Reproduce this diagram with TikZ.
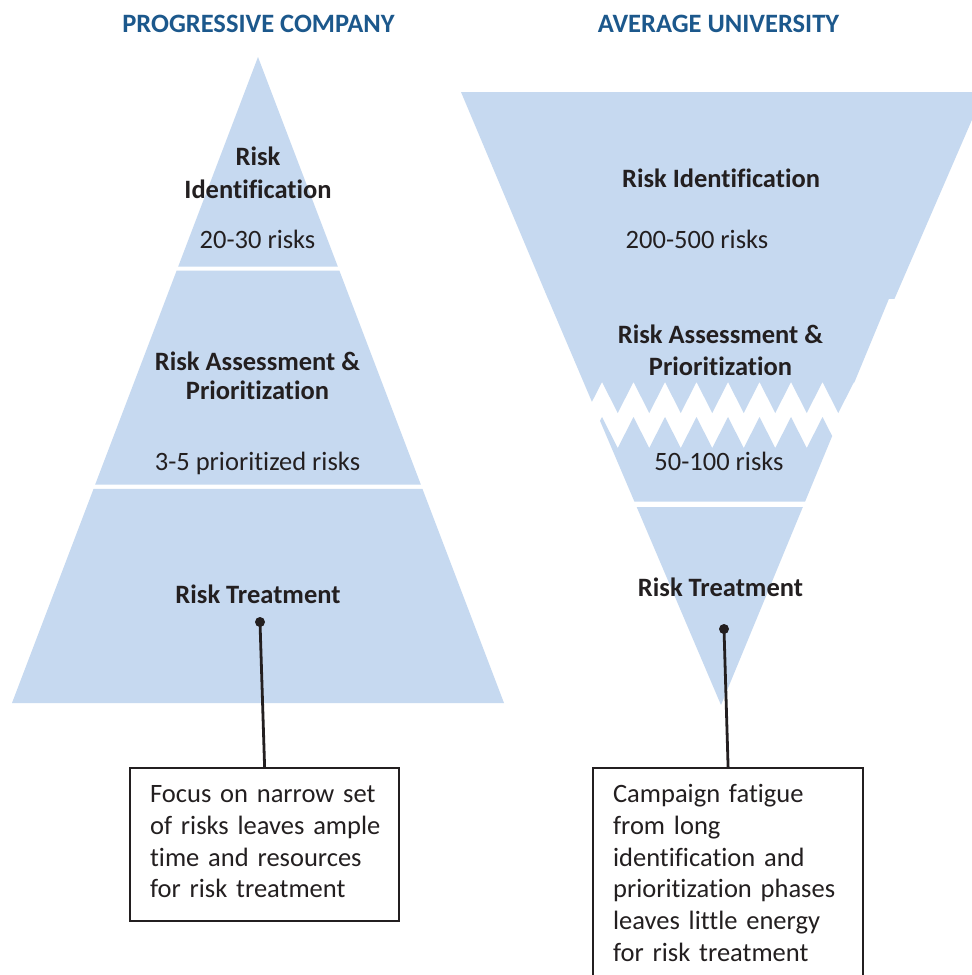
\documentclass[tikz,border=0pt]{standalone}
\usepackage{fontspec}
\setmainfont{Carlito}[Ligatures={NoCommon}]
\definecolor{bandblue}{HTML}{C6D9F0}
\definecolor{txt}{HTML}{231F20}
\definecolor{ttlblue}{RGB}{28,88,140}
\begin{document}
\begin{tikzpicture}[x=1pt,y=-1pt,
  band/.style={fill=bandblue},
  lbl/.style={font=\fontsize{26.5}{31.7}\selectfont\bfseries, text=txt, align=center, inner sep=0pt, anchor=base},
  num/.style={font=\fontsize{26.5}{31.7}\selectfont, text=txt, inner sep=0pt, anchor=base},
  ttl/.style={font=\fontsize{26.5}{31.7}\selectfont\bfseries, text=ttlblue, inner sep=0pt, anchor=base},
  callout/.style={draw=txt, line width=2.2pt, font=\fontsize{26.5}{31.7}\selectfont, text=txt,
     align=left, inner xsep=20pt, inner ysep=14.7pt, anchor=north west},
  dotmark/.style={circle, fill=txt, inner sep=0pt, minimum size=10pt},
  conn/.style={draw=txt, line width=2.8pt}]
\clip (0,0) rectangle (972,975);
\fill[white] (0,0) rectangle (972,975);

% ---------- titles ----------
\node[ttl] (t1) at (258.5,32.3) {PROGRESSIVE COMPANY};
\node[ttl] (t2) at (718.5,32.3) {AVERAGE UNIVERSITY};

% ---------- left pyramid ----------
\fill[band] (258,57) -- (337.85,266.7) -- (178.15,266.7) -- cycle;
\fill[band] (176.6,270.7) -- (339.4,270.7) -- (420.8,484.5) -- (95.2,484.5) -- cycle;
\fill[band] (93.6,488.8) -- (422.4,488.8) -- (504,703) -- (12,703) -- cycle;

\node[lbl] (l1) at (258,198.3) {Risk\\[1.6pt]Identification};
\node[num] (l2) at (257.5,248.3) {20-30 risks};
\node[lbl] (l3) at (257.5,399.3) {Risk Assessment \&\\[-3pt]Prioritization};
\node[num] (l4) at (257.5,470) {3-5 prioritized risks};
\node[lbl] (l5) at (258,603) {Risk Treatment};

% ---------- right inverted pyramid ----------
\fill[band] (461,92) -- (984,92) -- (894.5,298.8) -- (548,298.8) -- cycle;
\begin{scope}
  \clip (548,298.6) -- (889,298.6) -- (721,705) -- cycle;
  \fill[band] (500,298.6) -- (950,298.6) -- (950,413) -- (869.75,413)
    -- (854,382) -- (838.25,413) -- (822.5,382) -- (806.75,413)
    -- (791,382) -- (775.25,413) -- (759.5,382) -- (743.75,413)
    -- (728,382) -- (712.25,413) -- (696.5,382) -- (680.75,413)
    -- (665,382) -- (649.25,413) -- (633.5,382) -- (617.75,413)
    -- (602,382) -- (586.25,413) -- (500,413) -- cycle;
  \fill[band] (500,448) -- (586.25,448) -- (602,417) -- (617.75,448)
    -- (633.5,417) -- (649.25,448) -- (665,417) -- (680.75,448)
    -- (696.5,417) -- (712.25,448) -- (728,417) -- (743.75,448)
    -- (759.5,417) -- (775.25,448) -- (791,417) -- (806.75,448)
    -- (822.5,417) -- (838.25,448) -- (854,417) -- (869.75,448)
    -- (950,448) -- (950,501.7) -- (500,501.7) -- cycle;
  \fill[band] (500,506.7) -- (950,506.7) -- (950,720) -- (500,720) -- cycle;
\end{scope}

\node[lbl] (r1) at (721,187.3) {Risk Identification};
\node[num] (r2) at (697,248.3) {200-500 risks};
\node[lbl] (r3) at (720.5,375) {Risk Assessment \&\\Prioritization};
\node[num] (r4) at (719,470.7) {50-100 risks};
\node[lbl] (r5) at (720.5,596.7) {Risk Treatment};

% ---------- callouts ----------
\node[callout, text width=229pt] (box1) at (129,767)
  {\rule{0pt}{20pt}\mbox{Focus on narrow set}\\\mbox{of risks leaves ample}\\\mbox{time and resources}\\\mbox{for risk treatment}\rule[-8.5pt]{0pt}{8.5pt}};
\node[callout, text width=230pt] (box2) at (592,767)
  {\rule{0pt}{20pt}\mbox{Campaign fatigue}\\\mbox{from long}\\\mbox{identification and}\\\mbox{prioritization phases}\\\mbox{leaves little energy}\\\mbox{for risk treatment}\rule[-25pt]{0pt}{25pt}};

\node[dotmark] (d1) at (260,622) {};
\node[dotmark] (d2) at (724,629) {};
\draw[conn] (d1.center) -- (box1.north);
\draw[conn] (d2.center) -- (box2.north);
\end{tikzpicture}
\end{document}
